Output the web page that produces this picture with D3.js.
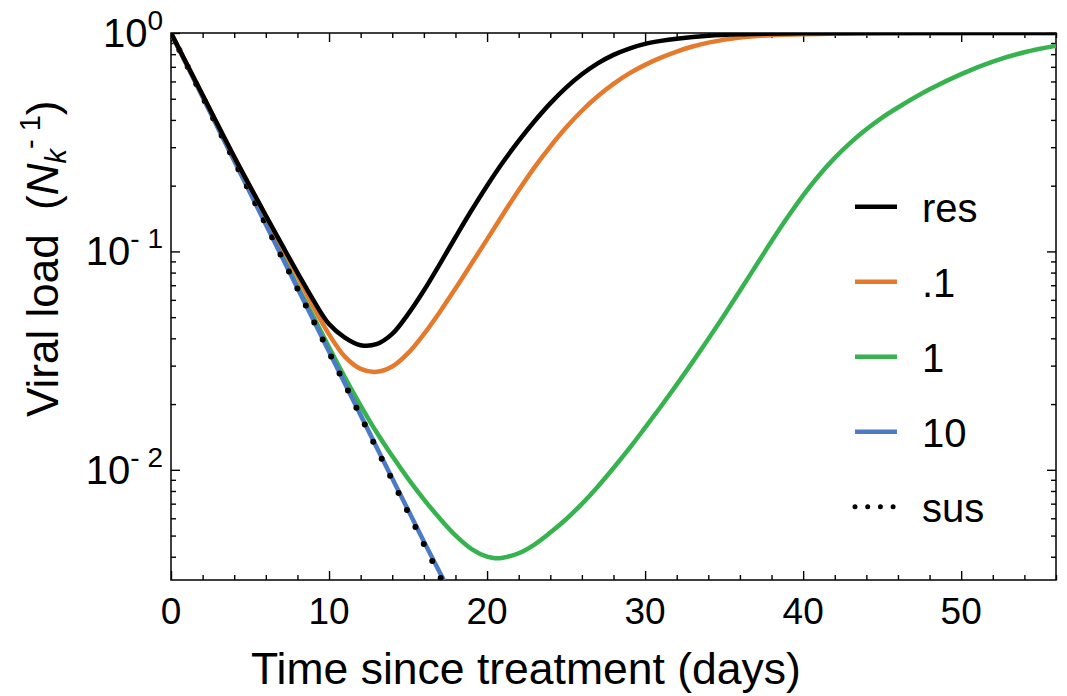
<!DOCTYPE html>
<html>
<head>
<meta charset="utf-8">
<script src="https://cdn.jsdelivr.net/npm/d3@7"></script>
<style>
body { margin: 0; background: #fff; }
text { font-family: "Liberation Sans", Arial, sans-serif; fill: #000; }
</style>
</head>
<body>
<svg id="chart" width="1067" height="696"></svg>
<script>
// [time since treatment (days), viral load]
var resData = [[0,1],[2,0.52],[4,0.271],[6,0.1459],[7,0.1079],[8,0.080],[9,0.060],[10,0.0465],[11,0.0403],[12,0.0372],
    [13,0.0376],[14,0.0419],[15,0.0516],[16,0.0662],[17,0.0873],[18,0.1161],[19,0.1535],[20,0.200],[21,0.2559],
    [22,0.3206],[23,0.3945],[24,0.4764],[25,0.5623],[26,0.6471],[27,0.7261],[28,0.7943],[29,0.8492],[30,0.8913],
    [31,0.9204],[32,0.9419],[34,0.9716],[36,0.9863],[40,0.9966],[45,0.9995],[56,1]];
var pt1Data = [[0,1],[2,0.52],[4,0.271],[6,0.1452],[7,0.1059],[8,0.0773],[9,0.056],[10,0.0417],[11,0.033],[12,0.029],
    [13,0.0281],[14,0.0297],[15,0.0342],[16,0.0418],[17,0.0527],[18,0.0676],[19,0.0875],[20,0.1135],[21,0.1476],
    [22,0.1905],[23,0.2427],[24,0.302],[25,0.369],[26,0.4406],[27,0.5129],[28,0.5848],[29,0.6531],[30,0.7145],
    [31,0.7709],[32,0.8222],[33,0.867],[34,0.9036],[36,0.9528],[38,0.9772],[42,0.9931],[46,0.9977],[56,1]];
var oneData = [[0,1],[2,0.512],[4,0.262],[6,0.135],[8,0.0695],[9,0.0505],[10,0.0364],[11,0.0265],[12,0.0197],
    [13,0.0149],[14,0.01156],[15,0.00912],[16,0.00733],[17,0.0060],[18,0.00501],[19,0.00435],[20,0.0040],
    [20.5,0.00394],[21,0.00396],[22,0.00415],[23,0.00455],[24,0.00516],[25,0.00594],[26,0.00698],[27,0.00837],
    [28,0.01019],[29,0.01253],[30,0.0156],[31,0.0195],[32,0.02455],[33,0.03112],[34,0.03972],[35,0.05105],
    [36,0.06607],[37,0.0857],[38,0.1112],[39,0.1429],[40,0.1807],[41,0.2228],[42,0.2679],[43,0.3148],[44,0.3622],
    [45,0.4102],[46,0.456],[48,0.5521],[50,0.6486],[52,0.7396],[54,0.8166],[56,0.875]];
var tenData = [[0,1],[4,0.26],[8,0.068],[12,0.0178],[16,0.0047],[17.6,0.0028]];
var susData = [[0,1],[4,0.26],[8,0.0676],[12,0.0176],[16,0.00457],[17.3,0.00295]];

var legendLabels = ["res", ".1", "1", "10", "sus"];
var colors = ["#000000", "#e5792c", "#36b34f", "#4a7bc4", "#000000"];

var xMajor = [0, 10, 20, 30, 40, 50];
var xMinor = d3.range(0, 57, 2).filter(d => d % 10 != 0);
var yMajor = [1e-2, 1e-1, 1];
var yExp = ["- 2", "- 1", "0"];
var yMinor = [4e-3,5e-3,6e-3,7e-3,8e-3,9e-3, 2e-2,3e-2,4e-2,5e-2,6e-2,7e-2,8e-2,9e-2, 0.2,0.3,0.4,0.5,0.6,0.7,0.8,0.9];

var svg = d3.select("#chart");
var pLeft = 171, pRight = 1056, pTop = 33, pBottom = 580;

var x = d3.scaleLinear().domain([0, 56]).range([pLeft, pRight]);
var y = d3.scaleLog().domain([0.00313, 1]).range([pBottom, pTop]);

svg.append("clipPath").attr("id", "clip")
    .append("rect").attr("x", pLeft).attr("y", pTop).attr("width", pRight - pLeft).attr("height", pBottom - pTop);

// axes with inward ticks on all four sides
function tickAxis(axis, pos, size, vals) {
    var g = svg.append("g").attr("transform", pos)
        .call(axis.tickValues(vals).tickSize(size).tickFormat(""));
    g.select(".domain").remove();
    g.selectAll("line").attr("stroke", "#000").attr("stroke-width", 1.4);
}
tickAxis(d3.axisBottom(x), `translate(0,${pBottom})`, -9, xMajor);
tickAxis(d3.axisBottom(x), `translate(0,${pBottom})`, -5, xMinor);
tickAxis(d3.axisTop(x), `translate(0,${pTop})`, -9, xMajor);
tickAxis(d3.axisTop(x), `translate(0,${pTop})`, -5, xMinor);
tickAxis(d3.axisLeft(y), `translate(${pLeft},0)`, -9, yMajor);
tickAxis(d3.axisLeft(y), `translate(${pLeft},0)`, -5, yMinor);
tickAxis(d3.axisRight(y), `translate(${pRight},0)`, -9, yMajor);
tickAxis(d3.axisRight(y), `translate(${pRight},0)`, -5, yMinor);

svg.append("rect").attr("x", pLeft).attr("y", pTop).attr("width", pRight - pLeft).attr("height", pBottom - pTop)
    .attr("fill", "none").attr("stroke", "#000").attr("stroke-width", 1.5);

// x tick labels
svg.selectAll(".xlab").data(xMajor).join("text")
    .attr("class", "xlab")
    .attr("x", d => x(d)).attr("y", 624)
    .attr("text-anchor", "middle").attr("font-size", 37)
    .text(d => d);

// y tick labels 10^n
var ylab = svg.selectAll(".ylab").data(yMajor).join("text")
    .attr("class", "ylab")
    .attr("x", 163).attr("y", d => y(d) + 14)
    .attr("text-anchor", "end").attr("font-size", 40);
ylab.append("tspan").text("10");
ylab.append("tspan").attr("dy", -17).attr("font-size", 28).text((d, i) => yExp[i]);

// axis titles
svg.append("text").attr("x", 526).attr("y", 684)
    .attr("text-anchor", "middle").attr("font-size", 44.5)
    .text("Time since treatment (days)");

var yt = svg.append("text").attr("transform", "translate(58,417) rotate(-90)")
    .attr("font-size", 44);
yt.append("tspan").text("Viral load\u00a0\u00a0(");
yt.append("tspan").attr("font-style", "italic").text("N");
yt.append("tspan").attr("font-style", "italic").attr("font-size", 29).attr("dy", 8).text("k");
yt.append("tspan").attr("font-size", 29).attr("dy", -26).text("- 1");
yt.append("tspan").attr("dy", 18).text(")");

// curves
var line = d3.line().x(d => x(d[0])).y(d => y(d[1])).curve(d3.curveCatmullRom.alpha(0.5));
var plot = svg.append("g").attr("clip-path", "url(#clip)");

function drawCurve(data, color, dash) {
    var p = plot.append("path").datum(data)
        .attr("d", line).attr("fill", "none")
        .attr("stroke", color);
    if (dash) {
        p.attr("stroke-width", 6).attr("stroke-dasharray", "0 19").attr("stroke-linecap", "round");
    } else {
        p.attr("stroke-width", 4.5);
    }
}
drawCurve(oneData, colors[2]);
drawCurve(tenData, colors[3]);
drawCurve(susData, colors[4], true);
drawCurve(pt1Data, colors[1]);
drawCurve(resData, colors[0]);

// legend
var leg = svg.selectAll(".leg").data(legendLabels).join("g")
    .attr("class", "leg")
    .attr("transform", (d, i) => `translate(0,${206.7 + i * 75})`);
leg.append("line").attr("x1", 855).attr("x2", 897)
    .attr("stroke", (d, i) => colors[i])
    .attr("stroke-width", (d, i) => i == 4 ? 5 : 4.5)
    .attr("stroke-dasharray", (d, i) => i == 4 ? "0 12.7" : null)
    .attr("stroke-linecap", (d, i) => i == 4 ? "round" : "butt");
leg.append("text").attr("x", 922).attr("y", 15).attr("font-size", 40).text(d => d);
</script>
</body>
</html>
